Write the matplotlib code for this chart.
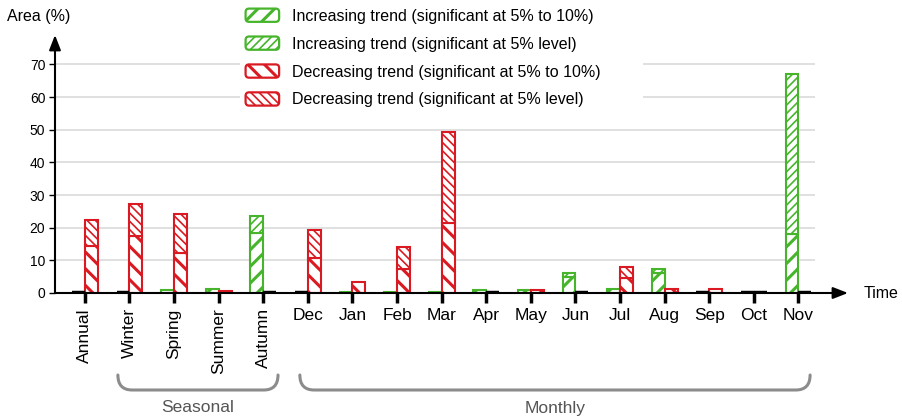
import numpy as np
import matplotlib
matplotlib.use("Agg")
import matplotlib.pyplot as plt
import matplotlib.patches as mpatches
from matplotlib.path import Path
from matplotlib.legend_handler import HandlerPatch
from matplotlib.transforms import blended_transform_factory

plt.rcParams['font.family'] = ['Liberation Sans', 'DejaVu Sans']

cats = ['Annual', 'Winter', 'Spring', 'Summer', 'Autumn',
        'Dec', 'Jan', 'Feb', 'Mar', 'Apr', 'May', 'Jun', 'Jul', 'Aug', 'Sep', 'Oct', 'Nov']

# area (%) with significant trends, split by significance level
inc_10 = np.array([0, 0, 1.0, 1.1, 18.5, 0, 0.4, 0.3, 0.3, 1.0, 0.8, 4.8, 1.2, 6.0, 0, 0, 18.0])
inc_5 = np.array([0, 0, 0, 0, 5.0, 0, 0, 0, 0, 0, 0, 1.2, 0, 1.5, 0, 0, 49.0])
dec_10 = np.array([14.4, 17.6, 12.4, 0.6, 0, 10.6, 3.3, 7.2, 21.4, 0, 0.8, 0, 4.5, 1.2, 1.2, 0, 0])
dec_5 = np.array([8.1, 9.6, 11.7, 0, 0, 8.7, 0, 6.8, 27.8, 0, 0, 0, 3.4, 0, 0, 0, 0])

labels = ['Increasing trend (significant at 5% to 10%)',
          'Increasing trend (significant at 5% level)',
          'Decreasing trend (significant at 5% to 10%)',
          'Decreasing trend (significant at 5% level)']

green = '#46b52b'
red = '#da1a22'
HATCH_LW = {'//': 2.2, '////': 1.2, '\\\\': 2.2, '\\\\\\\\': 1.2}
W = 0.29


def set_hatch_lw(patch, hatch):
    if hasattr(patch, 'set_hatch_linewidth'):
        patch.set_hatch_linewidth(HATCH_LW[hatch])


def draw_side(ax, x, lower, upper, color, h_lo, h_hi, left):
    x0 = x - W if left else x
    total = lower + upper
    zero = total == 0
    # empty categories sit as a black dash on the axis
    ax.hlines(np.zeros(zero.sum()), x0[zero], x0[zero] + W, color='k', lw=3.2, zorder=4)
    nz = lower > 0
    bars = ax.bar(x0[nz], lower[nz], W, align='edge', facecolor='white',
                  edgecolor=color, hatch=h_lo, lw=1.5, zorder=3)
    for b in bars:
        set_hatch_lw(b, h_lo)
    up = upper > 0
    bars = ax.bar(x0[up], upper[up], W, bottom=lower[up], align='edge',
                  facecolor='white', edgecolor=color, hatch=h_hi, lw=1.5, zorder=3)
    for b in bars:
        set_hatch_lw(b, h_hi)


class RoundBox(HandlerPatch):
    def create_artists(self, legend, orig, xdescent, ydescent, width, height,
                       fontsize, trans):
        p = mpatches.FancyBboxPatch((-xdescent, -ydescent), width, height,
                                    boxstyle='round,pad=0,rounding_size=2.5',
                                    facecolor='white', edgecolor=orig.get_edgecolor(),
                                    hatch=orig.get_hatch(), lw=1.6, transform=trans)
        set_hatch_lw(p, orig.get_hatch())
        return [p]


def brace(ax, fig, x0, x1, text):
    tr = blended_transform_factory(ax.transData, fig.transFigure)
    ytop, ybot, dx = 45 / 420, 30 / 420, 0.32
    verts = [(x0, ytop), (x0, ybot), (x0 + dx, ybot),
             (x1 - dx, ybot), (x1, ybot), (x1, ytop)]
    codes = [Path.MOVETO, Path.CURVE3, Path.CURVE3,
             Path.LINETO, Path.CURVE3, Path.CURVE3]
    ax.add_patch(mpatches.PathPatch(Path(verts, codes), transform=tr, fill=False,
                                    edgecolor='#8c8c8c', lw=2.2, clip_on=False,
                                    capstyle='round'))
    ax.text((x0 + x1) / 2, 12 / 420, text, transform=tr, ha='center', va='center',
            fontsize=12.5, color='#555555')


fig = plt.figure(figsize=(9.03, 4.2), dpi=100)
ax = fig.add_axes([55 / 903, 127 / 420, 793 / 903, 258 / 420])
x = np.arange(len(cats))

ax.set_xlim(-0.67, 17.11)
ax.set_ylim(0, 79)
ax.hlines(np.arange(10, 80, 10), -0.67, 16.37, color='#dadada', lw=1.2, zorder=0)

draw_side(ax, x, inc_10, inc_5, green, '//', '////', left=True)
draw_side(ax, x, dec_10, dec_5, red, '\\\\', '\\\\\\\\', left=False)

for s in ax.spines.values():
    s.set_visible(False)
arrow = dict(arrowstyle='-|>,head_length=0.9,head_width=0.35', color='k', lw=1.5,
             shrinkA=0, shrinkB=0)
ax.annotate('', xy=(1, 0), xytext=(0, 0), xycoords='axes fraction', arrowprops=arrow)
ax.annotate('', xy=(0, 1), xytext=(0, 0), xycoords='axes fraction', arrowprops=arrow)

ax.set_yticks(np.arange(0, 80, 10))
ax.tick_params(axis='y', length=4, width=1, labelsize=10, pad=3)
ax.set_xticks(x)
ax.set_xticklabels(cats, fontsize=12.5)
ax.tick_params(axis='x', length=7, width=2.5, pad=4)
for lbl in ax.get_xticklabels()[:5]:
    lbl.set_rotation(90)

fig.text(7 / 903, 1 - 17 / 420, 'Area (%)', fontsize=11.5, va='center', ha='left')
fig.text(864 / 903, 1 - 293 / 420, 'Time', fontsize=11.5, va='center', ha='left')

brace(ax, fig, 0.74, 4.33, 'Seasonal')
brace(ax, fig, 4.82, 16.26, 'Monthly')

handles = [mpatches.Patch(facecolor='white', edgecolor=green, hatch='//'),
           mpatches.Patch(facecolor='white', edgecolor=green, hatch='////'),
           mpatches.Patch(facecolor='white', edgecolor=red, hatch='\\\\'),
           mpatches.Patch(facecolor='white', edgecolor=red, hatch='\\\\\\\\')]
leg = ax.legend(handles, labels, loc='upper left', mode='expand',
                bbox_to_anchor=(240 / 903, 0, 403 / 903, 1 - 3 / 420),
                bbox_transform=fig.transFigure,
                fontsize=11.5, handlelength=2.1, handleheight=0.9, labelspacing=0.8,
                handletextpad=0.8, borderpad=0.35, borderaxespad=0, frameon=True,
                fancybox=False, framealpha=1, edgecolor='none',
                handler_map={mpatches.Patch: RoundBox()})
leg.set_zorder(5)

fig.savefig('out.png', dpi=100)
